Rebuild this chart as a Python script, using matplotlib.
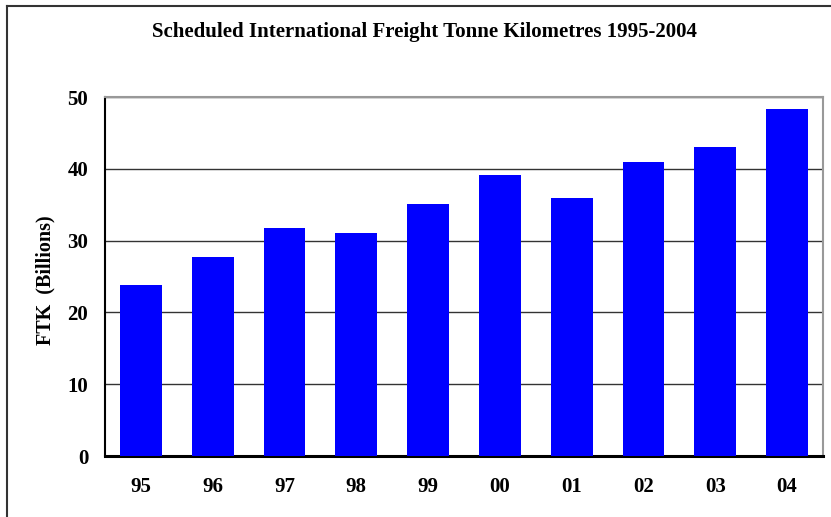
"""Scheduled international freight tonne kilometres, 1995-2004, as a bar chart."""

import matplotlib
matplotlib.use("Agg")
import matplotlib.pyplot as plt
from matplotlib.lines import Line2D

years = ["95", "96", "97", "98", "99", "00", "01", "02", "03", "04"]
ftk_billions = [23.8, 27.75, 31.8, 31.0, 35.1, 39.2, 36.0, 41.0, 43.0, 48.3]
y_ticks = [0, 10, 20, 30, 40, 50]

plt.rcParams['font.family'] = ['Liberation Serif', 'DejaVu Serif']
plt.rcParams['font.weight'] = 'bold'

fig = plt.figure(figsize=(8.31, 5.17), dpi=100)
W, H = 831, 517
left, right, top, bottom = 105, 823, 97, 456
ax = fig.add_axes([left / W, 1 - bottom / H, (right - left) / W, (bottom - top) / H])

x = range(len(years))
ax.bar(x, ftk_billions, width=0.58, color='#0000ff', zorder=3)

ax.set_xlim(-0.5, len(years) - 0.5)
ax.set_ylim(0, 50)
ax.set_yticks(y_ticks)
ax.set_yticklabels([str(t) for t in y_ticks], fontsize=15, fontweight='bold')
ax.set_xticks(list(x))
ax.set_xticklabels(years, fontsize=15, fontweight='bold')
ax.tick_params(axis='both', length=0)
ax.tick_params(axis='y', pad=12)
ax.tick_params(axis='x', pad=15)

ax.yaxis.grid(True, color='#333333', linewidth=1.0, zorder=1)
ax.set_axisbelow(True)

ax.spines['left'].set_color('black')
ax.spines['left'].set_linewidth(1.5)
ax.spines['bottom'].set_color('black')
ax.spines['bottom'].set_linewidth(2.2)
ax.spines['top'].set_color('#999999')
ax.spines['top'].set_linewidth(1.5)
ax.spines['right'].set_color('#999999')
ax.spines['right'].set_linewidth(1.5)

# y label centred at about x=45, y=280 px
ax.set_ylabel('FTK  (Billions)', fontsize=14.5, fontweight='bold', va='center')
ax.yaxis.set_label_coords((45 - left) / (right - left), (bottom - 280) / (bottom - top))

fig.text(424 / W, 1 - 32 / H, 'Scheduled International Freight Tonne Kilometres 1995-2004',
         ha='center', va='center', fontsize=15, fontweight='bold')

# outer chart frame (left and top edges only are in view)
fig.add_artist(Line2D([7 / W, 7 / W], [0, 1 - 6 / H], transform=fig.transFigure,
                      color='#333333', linewidth=1.5))
fig.add_artist(Line2D([7 / W, 1], [1 - 6 / H, 1 - 6 / H], transform=fig.transFigure,
                      color='#333333', linewidth=1.5))

fig.savefig('out.png', dpi=100)
